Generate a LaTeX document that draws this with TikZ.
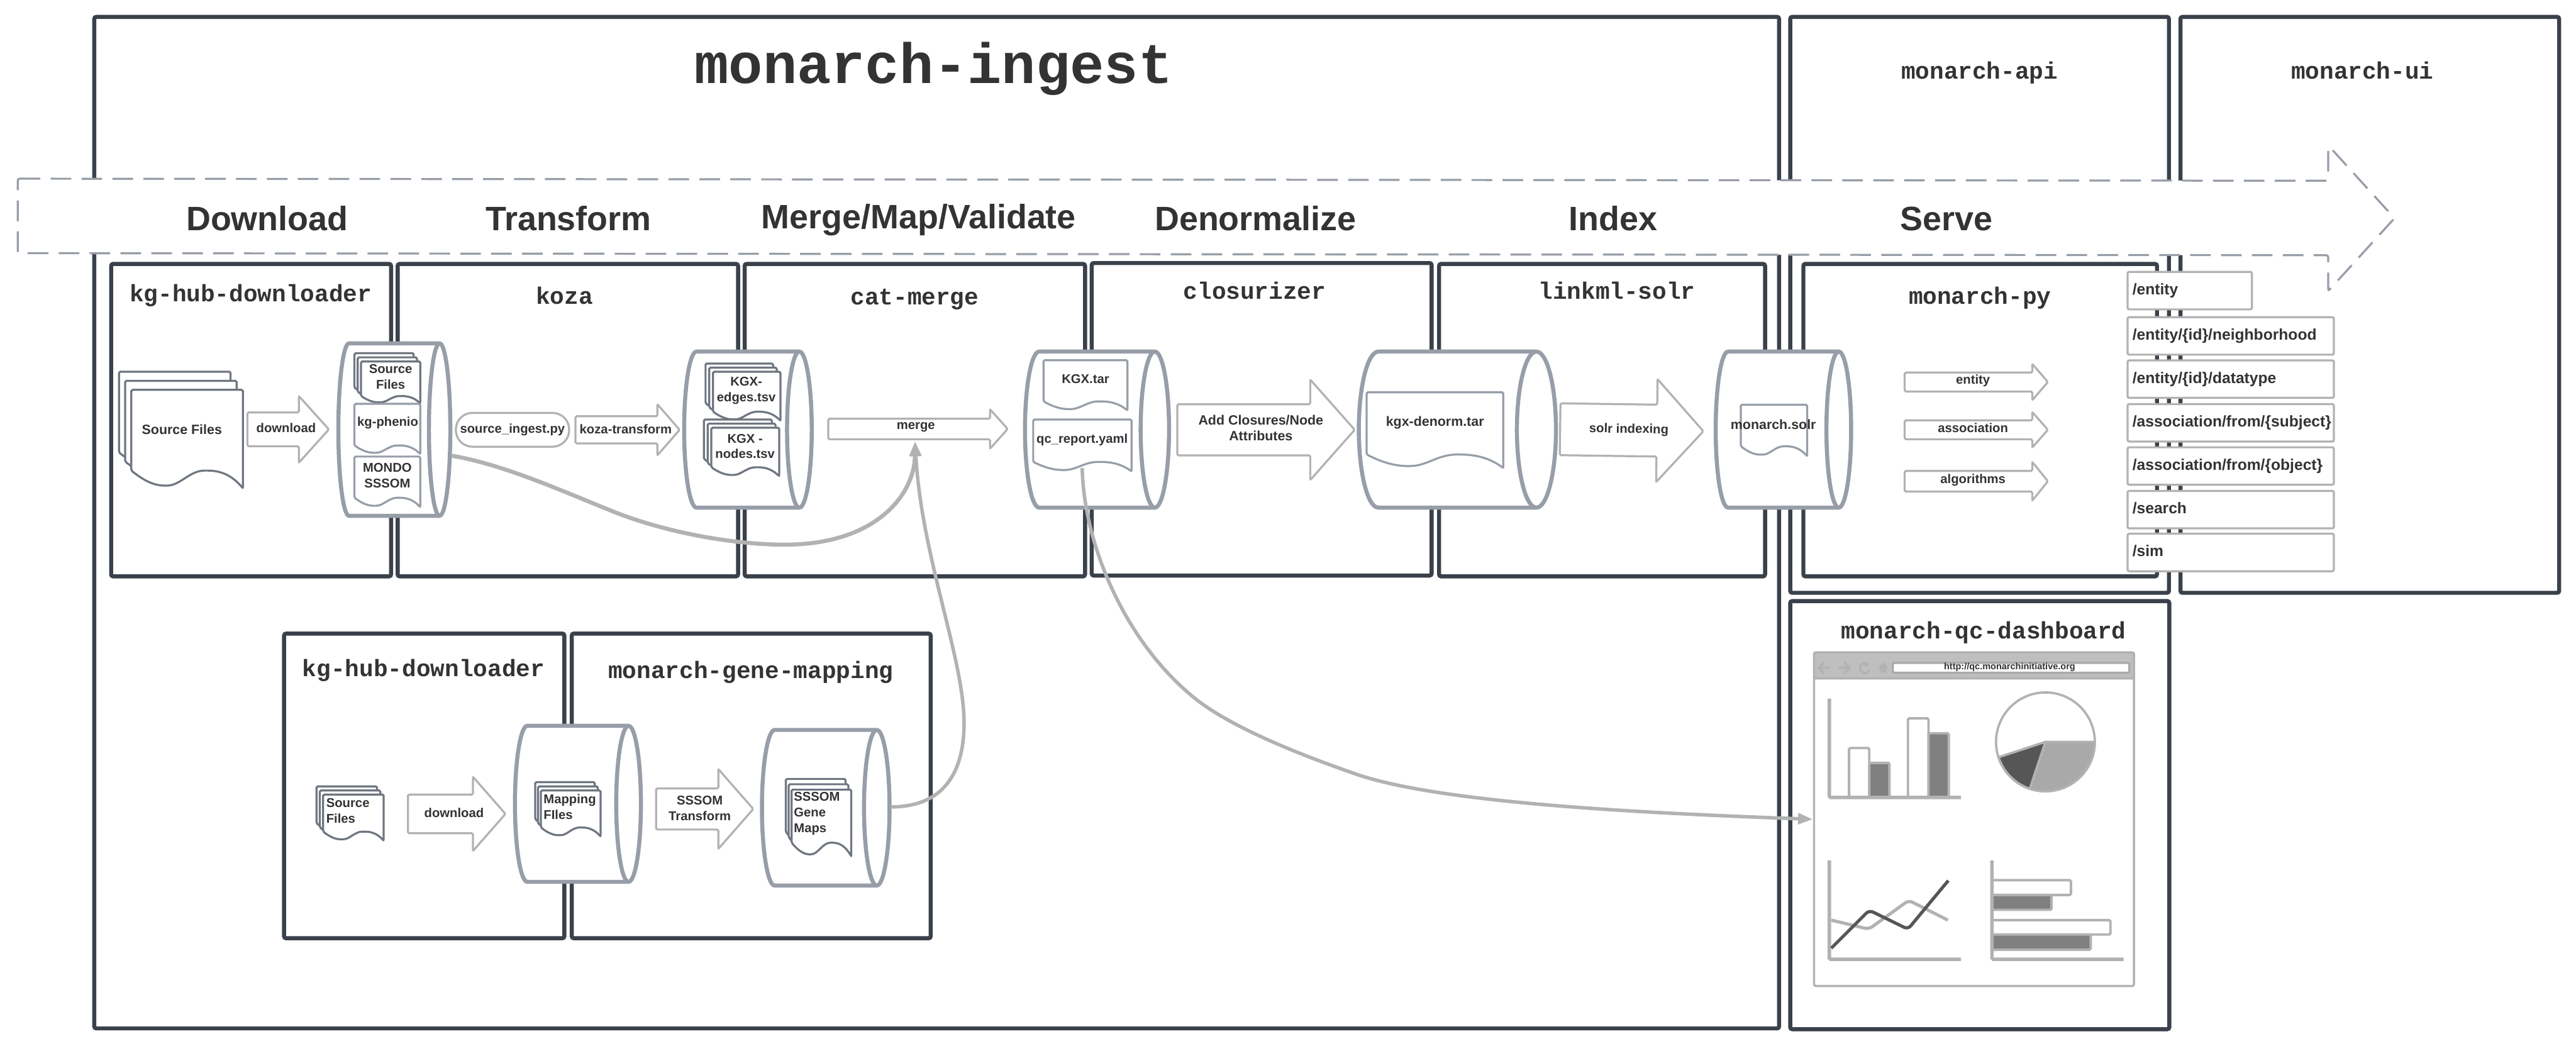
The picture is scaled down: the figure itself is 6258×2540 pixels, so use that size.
\documentclass[tikz,border=0pt]{standalone}
\usepackage{fontspec}
\setmainfont{Liberation Sans}
\setmonofont{Liberation Mono}
\usetikzlibrary{arrows.meta, positioning, calc}
\definecolor{framedark}{HTML}{3A414A}
\definecolor{cylgray}{HTML}{979EA8}
\definecolor{stackgray}{HTML}{6F7681}
\definecolor{arrowgray}{HTML}{B2B2B2}
\definecolor{inktext}{HTML}{333333}
\definecolor{headgray}{HTML}{BFBFBF}
\definecolor{baralt}{HTML}{808080}
\definecolor{pielight}{HTML}{A9A9A9}
\definecolor{piedark}{HTML}{565656}
\tikzset{
  framebox/.style={draw=framedark, line width=2.8pt, rounded corners=0.5mm},
  cylline/.style={draw=cylgray, fill=white, line width=2.8pt, line join=round},
  docline/.style={draw=cylgray, fill=white, line width=1.4pt, rounded corners=0.3mm},
  stackline/.style={draw=stackgray, fill=white, line width=1.4pt, rounded corners=0.3mm},
  blockline/.style={draw=arrowgray, fill=white, line width=1.4pt, rounded corners=0.3mm},
  conn/.style={draw=arrowgray, line width=2.4pt, -{Triangle[length=3.6mm,width=2.6mm]}},
  titlelabel/.style={anchor=base, inner sep=0, text=inktext, font=\fontsize{16.4}{19}\selectfont\ttfamily\bfseries},
  phaselabel/.style={anchor=base, inner sep=0, text=inktext, font=\fontsize{23.4}{26}\selectfont\bfseries},
  smalllabel/.style={inner sep=0, align=center, text=inktext, font=\fontsize{8.8}{10.8}\selectfont\bfseries},
  biglabel/.style={smalllabel, font=\fontsize{9.3}{10.8}\selectfont\bfseries},
  leftlabel/.style={smalllabel, align=left},
  apibox/.style={draw=arrowgray, fill=white, line width=1.4pt, rounded corners=0.4mm, anchor=north west,
    minimum height=0.91cm, inner xsep=0.12cm, inner ysep=0, text width=4.77cm, text height=0.3cm, text depth=0.1cm,
    align=left, text=inktext, font=\fontsize{10.7}{12}\selectfont\bfseries},
  chartaxis/.style={draw=arrowgray, line width=2.4pt},
  chartbar/.style={draw=arrowgray, line width=1.7pt, fill=white, rounded corners=0.3mm},
  navicon/.style={draw=arrowgray, line width=1.6pt}
}
% x1 y1 x2 y2 ellipse-radius
\newcommand{\cylinder}[5]{%
  \pgfmathsetmacro\cylry{(#4-#2)/2}
  \draw[cylline] ({#1+#5},#2) -- ({#3-#5},#2) arc[start angle=-90, end angle=90, x radius=#5, y radius=\cylry]
    -- ({#1+#5},#4) arc[start angle=90, end angle=270, x radius=#5, y radius=\cylry] -- cycle;
  \draw[cylline, fill=none] ({#3-#5},#2) arc[start angle=-90, end angle=-270, x radius=#5, y radius=\cylry];
}
% style x1 y1 x2 y2 wave
\newcommand{\docsheet}[6]{%
  \draw[#1] (#2,#3) -- (#4,#3) -- (#4,#5)
    .. controls ({#4-0.1*(#4-#2)},{#5-0.75*#6}) and ({#4-0.2*(#4-#2)},{#5-#6}) .. ({#2+0.67*(#4-#2)},{#5-#6})
    .. controls ({#2+0.52*(#4-#2)},{#5-#6}) and ({#2+0.44*(#4-#2)},{#5-0.15*#6}) .. ({#2+0.31*(#4-#2)},{#5-0.15*#6})
    .. controls ({#2+0.18*(#4-#2)},{#5-0.15*#6}) and ({#2+0.08*(#4-#2)},{#5-0.6*#6}) .. (#2,{#5-#6}) -- cycle;
}
% x1 y1 x2 y2 dx dy wave
\newcommand{\docstack}[7]{%
  \docsheet{stackline, shift={({-2*#5},{-2*#6})}}{#1}{#2}{#3}{#4}{#7}
  \docsheet{stackline, shift={({-#5},{-#6})}}{#1}{#2}{#3}{#4}{#7}
  \docsheet{stackline}{#1}{#2}{#3}{#4}{#7}
}
% x1 neck tip ymid body-half head-half
\newcommand{\blockarrow}[6]{%
  \draw[blockline] (#1,{#4-#5}) -- (#2,{#4-#5}) -- (#2,{#4-#6}) -- (#3,#4) -- (#2,{#4+#6}) -- (#2,{#4+#5}) -- (#1,{#4+#5}) -- cycle;
}
\begin{document}
\begin{tikzpicture}[x=0.01cm, y=-0.01cm]
  \useasboundingbox (0,0) rectangle (6258,2540);
  \fill[white] (0,0) rectangle (6258,2540);
  % outer frames
  \draw[framebox] (229,41) rectangle (4322,2498);
  \draw[framebox] (4349,41) rectangle (5269,1440);
  \draw[framebox] (5297,41) rectangle (6217,1440);
  \draw[framebox] (4349,1460) rectangle (5270,2500);
  \node[titlelabel, font=\fontsize{39.3}{44}\selectfont\ttfamily\bfseries] (ingesttitle) at (2268,203) {monarch-ingest};
  \node[titlelabel] (apititle) at (4809,191) {monarch-api};
  \node[titlelabel] (uititle) at (5739,191) {monarch-ui};
  % dashed phase arrow
  \draw[draw=cylgray, fill=white, line width=1.4pt, dash pattern=on 0.5cm off 0.25cm, rounded corners=0.5mm]
    (43,434) -- (5656,439) -- (5656,353) -- (5817,530) -- (5656,707) -- (5656,620) -- (43,615) -- cycle;
  \node[phaselabel] (phasedownload) at (649,560) {Download};
  \node[phaselabel] (phasetransform) at (1381,560) {Transform};
  \node[phaselabel] (phasemerge) at (2232,555) {Merge/Map/Validate};
  \node[phaselabel] (phasedenorm) at (3050,560) {Denormalize};
  \node[phaselabel] (phaseindex) at (3919,560) {Index};
  \node[phaselabel] (phaseserve) at (4729,560) {Serve};
  % tool frames, top row
  \draw[framebox] (270,641) rectangle (950,1400);
  \draw[framebox] (966,641) rectangle (1793,1400);
  \draw[framebox] (1809,641) rectangle (2636,1400);
  \draw[framebox] (2652,639) rectangle (3478,1398);
  \draw[framebox] (3496,641) rectangle (4288,1400);
  \draw[framebox] (4381,641) rectangle (5240,1400);
  \node[titlelabel] (hubtitle) at (609,732) {kg-hub-downloader};
  \node[titlelabel] (kozatitle) at (1371,738) {koza};
  \node[titlelabel] (cattitle) at (2222,740) {cat-merge};
  \node[titlelabel] (closuretitle) at (3048,727) {closurizer};
  \node[titlelabel] (solrtitle) at (3928,727) {linkml-solr};
  \node[titlelabel] (pytitle) at (4810,738) {monarch-py};
  % tool frames, bottom row
  \draw[framebox] (690,1539) rectangle (1371,2279);
  \draw[framebox] (1389,1539) rectangle (2261,2279);
  \node[titlelabel] (hubtitlelow) at (1029,1643) {kg-hub-downloader};
  \node[titlelabel] (genetitle) at (1824,1648) {monarch-gene-mapping};
  \node[titlelabel] (qctitle) at (4819,1552) {monarch-qc-dashboard};
  % download step
  \docstack{319}{947}{590}{1186}{15}{22}{43}
  \node[biglabel] (sourcefiles) at (442,1044) {Source Files};
  \blockarrow{601}{726}{799}{1043}{41}{81}
  \node[smalllabel] (downloadlbl) at (695,1039) {download};
  \cylinder{822}{834}{1094}{1253}{26}
  \docstack{877}{878}{1021}{980}{8}{10}{18}
  \node[smalllabel] (sourceinner) at (949,915) {Source\\Files};
  \docsheet{docline}{861}{981}{1021}{1103}{21}
  \node[smalllabel] (phenio) at (942,1027) {kg-phenio};
  \docsheet{docline}{861}{1109}{1021}{1232}{23}
  \node[smalllabel] (mondo) at (941,1155) {MONDO\\SSSOM};
  % transform step
  \node[draw=arrowgray, fill=white, line width=1.4pt, rounded corners=4mm, minimum width=2.75cm, minimum height=0.82cm,
    inner sep=0, text=inktext, font=\fontsize{8.8}{10.8}\selectfont\bfseries] (ingestpy) at (1245,1044) {source\_ingest.py};
  \blockarrow{1398}{1597}{1651}{1044}{33}{62}
  \node[smalllabel] (kozatransform) at (1520,1042) {koza-transform};
  \cylinder{1662}{854}{1972}{1233}{30}
  \docstack{1732}{903}{1896}{1022}{9}{10}{22}
  \node[smalllabel] (edges) at (1813,949) {KGX-\\edges.tsv};
  \docstack{1728}{1039}{1893}{1157}{9}{10}{22}
  \node[smalllabel] (nodes) at (1810,1084) {KGX -\\nodes.tsv};
  % merge step
  \blockarrow{2012}{2405}{2448}{1042}{25}{48}
  \node[smalllabel] (mergelbl) at (2225,1038) {merge};
  \cylinder{2490}{854}{2840}{1233}{34.5}
  \docsheet{docline}{2535}{875}{2739}{997}{22}
  \node[smalllabel] (kgxtar) at (2637,920) {KGX.tar};
  \docsheet{docline}{2510}{1019}{2749}{1145}{23}
  \node[smalllabel] (qcreport) at (2629,1068) {qc\_report.yaml};
  % denormalize step
  \blockarrow{2860}{3183}{3291}{1044}{62}{122}
  \node[biglabel] (closurelbl) at (3063,1040) {Add Closures/Node\\Attributes};
  \cylinder{3301}{854}{3780}{1233}{47.5}
  \docsheet{docline}{3320}{953}{3652}{1137}{33}
  \node[biglabel] (denormtar) at (3486,1027) {kgx-denorm.tar};
  % index step
  \begin{scope}[rotate around={-0.8:(3957,1045)}]
    \blockarrow{3790}{4025}{4138}{1045}{63}{125}
  \end{scope}
  \node[smalllabel, rotate=-0.8] (solrlbl) at (3957,1044) {solr indexing};
  \cylinder{4168}{854}{4497}{1233}{30}
  \docsheet{docline}{4229}{983}{4390}{1108}{24}
  \node[biglabel] (monarchsolr) at (4308,1031) {monarch.solr};
  % serve step
  \blockarrow{4627}{4937}{4975}{928}{23}{44}
  \node[smalllabel] (entitylbl) at (4793,924) {entity};
  \blockarrow{4627}{4937}{4975}{1044}{23}{43}
  \node[smalllabel] (associationlbl) at (4793,1039) {association};
  \blockarrow{4627}{4937}{4975}{1169}{25}{47}
  \node[smalllabel] (algorithmslbl) at (4793,1166) {algorithms};
  \node[apibox, text width=2.78cm] (apientity) at (5166,658) {/entity};
  \node[apibox] (apineighbor) at (5166,768) {/entity/\{id\}/neighborhood};
  \node[apibox] (apidatatype) at (5166,873) {/entity/\{id\}/datatype};
  \node[apibox] (apisubject) at (5166,979) {/association/from/\{subject\}};
  \node[apibox] (apiobject) at (5166,1084) {/association/from/\{object\}};
  \node[apibox] (apisearch) at (5166,1190) {/search};
  \node[apibox] (apisim) at (5166,1294) {/sim};
  % gene mapping row
  \docstack{785}{1930}{932}{2042}{8}{10}{22}
  \node[leftlabel, anchor=west] (sourcelow) at (792,1970) {Source\\Files};
  \blockarrow{991}{1149}{1228}{1977}{47}{90}
  \node[smalllabel] (downloadlow) at (1103,1974) {download};
  \cylinder{1251}{1763}{1557}{2142}{30}
  \docstack{1314}{1920}{1459}{2032}{7}{10}{22}
  \node[leftlabel, anchor=west] (mappingfiles) at (1320,1960) {Mapping\\FIles};
  \blockarrow{1594}{1745}{1830}{1965}{50}{97}
  \node[smalllabel] (sssomlbl) at (1700,1963) {SSSOM\\Transform};
  \cylinder{1851}{1773}{2161}{2151}{31}
  \docstack{1923}{1918}{2068}{2080}{7}{13}{33}
  \node[leftlabel, anchor=west] (genemaps) at (1928,1976) {SSSOM\\Gene\\Maps};
  % browser window
  \draw[draw=arrowgray, fill=white, line width=1.5pt, rounded corners=0.4mm] (4407,1585) rectangle (5184,2395);
  \draw[draw=arrowgray, fill=headgray, line width=1.5pt, rounded corners=0.4mm] (4407,1585) rectangle (5184,1648);
  \draw[draw=pielight, fill=white, line width=1.5pt, rounded corners=0.4mm] (4598,1610) rectangle (5173,1634);
  \node[inner sep=0, text=inktext, font=\fontsize{6.3}{7}\selectfont\bfseries] (urllbl) at (4882,1621) {http://qc.monarchinitiative.org};
  \draw[navicon] (4444,1622) -- (4418,1622) (4431,1609) -- (4418,1622) -- (4431,1635);
  \draw[navicon] (4467,1622) -- (4493,1622) (4480,1609) -- (4493,1622) -- (4480,1635);
  \draw[navicon] (4538,1614) arc[start angle=-50, end angle=-340, radius=12];
  \fill[arrowgray] (4535,1607) -- (4541,1620) -- (4527,1617) -- cycle;
  \fill[arrowgray] (4562,1622) -- (4575,1609) -- (4588,1622) -- (4583,1622) -- (4583,1634) -- (4567,1634) -- (4567,1622) -- cycle;
  % grouped bars
  \draw[chartbar] (4492,1937) -- (4492,1817) -- (4541,1817) -- (4541,1937);
  \draw[chartbar, fill=baralt] (4541,1937) -- (4541,1853) -- (4590,1853) -- (4590,1937);
  \draw[chartbar] (4635,1937) -- (4635,1745) -- (4685,1745) -- (4685,1937);
  \draw[chartbar, fill=baralt] (4685,1937) -- (4685,1781) -- (4734,1781) -- (4734,1937);
  \draw[chartaxis, rounded corners=0.3mm] (4444,1697) -- (4444,1937) -- (4764,1937);
  % pie
  \draw[draw=arrowgray, fill=white, line width=1.6pt] (4969,1802) circle (120);
  \draw[draw=arrowgray, fill=pielight, line width=1.6pt, line join=round] (4969,1802) -- (5089,1802) arc[start angle=0, end angle=108.6, radius=120] -- cycle;
  \draw[draw=arrowgray, fill=piedark, line width=1.6pt, line join=round] (4969,1802) -- (4931,1916) arc[start angle=108.6, end angle=162, radius=120] -- cycle;
  % line chart
  \draw[chartaxis, rounded corners=0.3mm] (4444,2090) -- (4444,2330) -- (4764,2330);
  \draw[draw=arrowgray, line width=2.2pt, rounded corners=1mm] (4449,2235) -- (4540,2257) -- (4637,2187) -- (4732,2235);
  \draw[draw=piedark, line width=2.2pt, rounded corners=1mm] (4449,2303) -- (4541,2211) -- (4635,2257) -- (4733,2139);
  % horizontal bars
  \draw[chartbar] (4839,2138) -- (5031,2138) -- (5031,2174) -- (4839,2174);
  \draw[chartbar, fill=baralt] (4839,2174) -- (4984,2174) -- (4984,2210) -- (4839,2210);
  \draw[chartbar] (4839,2235) -- (5127,2235) -- (5127,2270) -- (4839,2270);
  \draw[chartbar, fill=baralt] (4839,2270) -- (5079,2270) -- (5079,2307) -- (4839,2307);
  \draw[chartaxis, rounded corners=0.3mm] (4839,2090) -- (4839,2330) -- (5159,2330);
  % connectors
  \coordinate (phenioout) at (1098,1107);
  \coordinate (mergein) at (2223,1072);
  \coordinate (geneout) at (2164,1960);
  \coordinate (qcout) at (2629,1137);
  \coordinate (browserin) at (4404,1990);
  \draw[conn, line width=2.8pt] (phenioout) .. controls (1230,1130) and (1370,1195) .. (1501,1247)
    .. controls (1640,1300) and (1800,1323) .. (1906,1323) .. controls (2130,1323) and (2222,1200) .. (mergein);
  \draw[conn] (geneout) .. controls (2290,1960) and (2342,1880) .. (2342,1756) .. controls (2342,1600) and (2238,1350) .. (mergein);
  \draw[conn] (qcout) .. controls (2633,1320) and (2730,1555) .. (2900,1694) .. controls (2990,1768) and (3170,1838) .. (3308,1885)
    .. controls (3500,1945) and (3900,1972) .. (browserin);
\end{tikzpicture}
\end{document}
